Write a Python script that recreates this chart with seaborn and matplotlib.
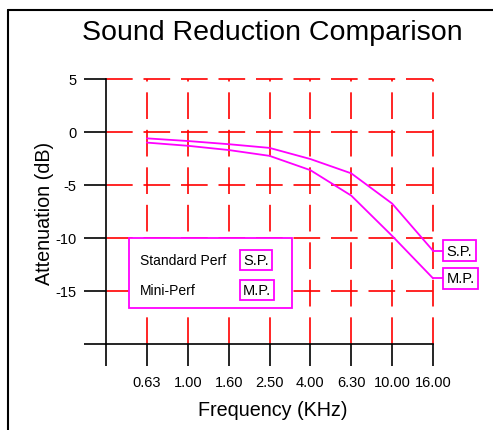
import matplotlib
matplotlib.use("Agg")
import matplotlib.pyplot as plt
import seaborn as sns
import pandas as pd
from matplotlib.lines import Line2D

# ---- data ----
freq_labels = ["0.63", "1.00", "1.60", "2.50", "4.00", "6.30", "10.00", "16.00"]
standard_perf = [-0.6, -0.85, -1.15, -1.5, -2.55, -3.9, -6.75, -11.2]
mini_perf = [-1.0, -1.3, -1.7, -2.25, -3.6, -6.0, -9.8, -13.8]
series_names = ["Standard Perf", "Mini-Perf"]
series_short = ["S.P.", "M.P."]
y_ticks = [5, 0, -5, -10, -15, -20]
y_tick_labels = ["5", "0", "-5", "-10", "-15", ""]

positions = list(range(1, len(freq_labels) + 1))
df = pd.DataFrame({
    "pos": positions * 2,
    "val": standard_perf + mini_perf,
    "series": [series_names[0]] * len(positions) + [series_names[1]] * len(positions),
})

sns.set_style("white")
plt.rcParams["font.family"] = ["Liberation Sans", "DejaVu Sans"]
plt.rcParams["text.color"] = "black"
plt.rcParams["axes.labelcolor"] = "black"
plt.rcParams["xtick.color"] = "black"
plt.rcParams["ytick.color"] = "black"

W, H = 493, 431
fig = plt.figure(figsize=(W / 100, H / 100), dpi=100)

def fx(x):
    return x / W

def fy(y):
    return 1 - y / H

ax = fig.add_axes([fx(106), fy(345), fx(433) - fx(106), fy(80) - fy(345)])
ax.set_xlim(0, 8)
ax.set_ylim(-20, 5)

red = "#FF0000"
mag = "#FF00FF"
dash = (0, (16, 6.5))
for yv in [5, 0, -5, -10, -15]:
    ax.axhline(yv, color=red, lw=1.2, ls=dash, zorder=1, clip_on=False)
for xv in positions:
    ax.axvline(xv, color=red, lw=1.2, ls=dash, zorder=1, clip_on=False)

sns.lineplot(data=df, x="pos", y="val", hue="series",
             palette=[mag, mag], legend=False, ax=ax, lw=1.3, zorder=3)
for ln in ax.lines[-2:]:
    ln.set_clip_on(False)

# end labels
for vals, short in zip([standard_perf, mini_perf], series_short):
    ax.plot([positions[-1], 8.245], [vals[-1], vals[-1]], color=mag, lw=1.3,
            clip_on=False, zorder=3)
    ax.text(8.33, vals[-1], short, ha="left", va="center", fontsize=10.5,
            color="black",
            bbox=dict(boxstyle="square,pad=0.25", fc="white", ec=mag, lw=1.3),
            zorder=5, clip_on=False)

# axes styling
for s in ["top", "right"]:
    ax.spines[s].set_visible(False)
for s in ["left", "bottom"]:
    ax.spines[s].set_color("black")
    ax.spines[s].set_linewidth(1.2)
ax.set_xticks(range(0, 9))
ax.set_xticklabels([""] + freq_labels)
ax.set_yticks(y_ticks)
ax.set_yticklabels(y_tick_labels)
ax.tick_params(axis="both", direction="out", length=16, width=1.2, colors="black",
               labelsize=10.5, left=True, bottom=True)
ax.tick_params(axis="x", pad=6)
ax.tick_params(axis="y", pad=5)
ax.set_xlabel("")
ax.set_ylabel("")

# custom legend box
leg = plt.Rectangle((fx(129), fy(309)), fx(292) - fx(129), fy(239) - fy(309),
                    transform=fig.transFigure, fc="white", ec=mag, lw=1.3, zorder=4)
fig.add_artist(leg)
for i, (name, short) in enumerate(zip(series_names, series_short)):
    yy = 261 + 30 * i
    fig.text(fx(140), fy(yy), name, ha="left", va="center", fontsize=10, zorder=6,
             color="black")
    fig.text(fx(243), fy(yy), short, ha="left", va="center", fontsize=10.5, zorder=6,
             color="black",
             bbox=dict(boxstyle="square,pad=0.2", fc="white", ec=mag, lw=1.3))

# titles
fig.text(fx(272), fy(33), "Sound Reduction Comparison", ha="center", va="center",
         fontsize=20.5, color="black")
fig.text(fx(273), fy(411), "Frequency (KHz)", ha="center", va="center", fontsize=14.2,
         color="black")
fig.text(fx(45), fy(213), "Attenuation (dB)", ha="center", va="center",
         fontsize=14.2, rotation=90, color="black")

# frame lines
fig.add_artist(Line2D([fx(8), fx(8)], [fy(11), 0], color="black", lw=1.5,
                      transform=fig.transFigure))
fig.add_artist(Line2D([fx(8), 1], [fy(11), fy(11)], color="black", lw=1.5,
                      transform=fig.transFigure))

fig.savefig("out.png", dpi=100)
